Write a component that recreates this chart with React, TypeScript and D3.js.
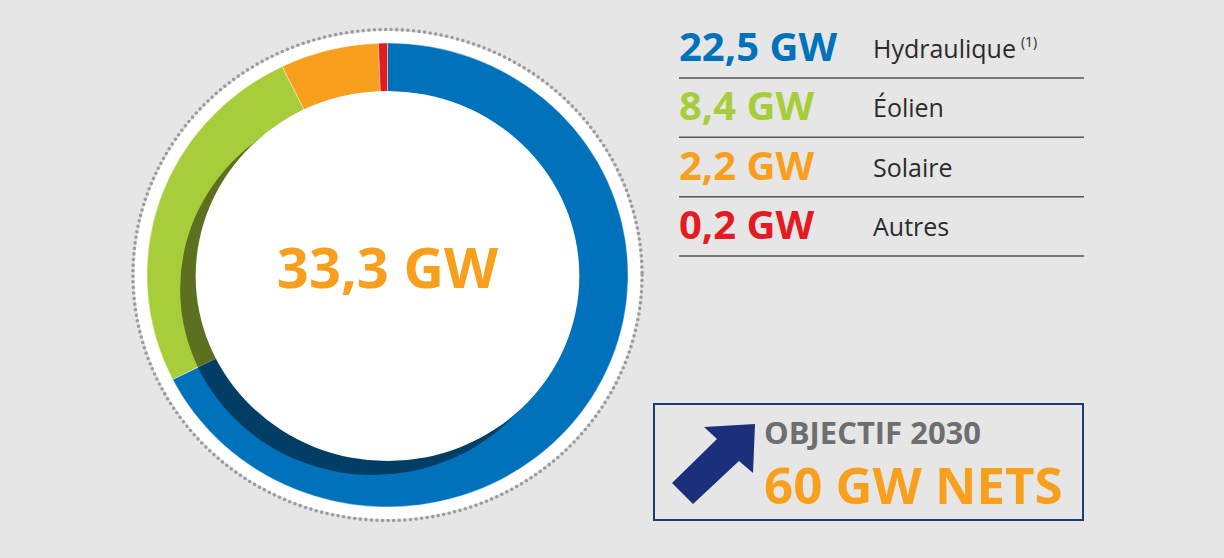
import React from "react";
import * as d3 from "d3";

const categories = ["Hydraulique", "Éolien", "Solaire", "Autres"];
const values = [22.5, 8.4, 2.2, 0.2];
const valueLabels = ["22,5 GW", "8,4 GW", "2,2 GW", "0,2 GW"];
const colors = ["#0071bb", "#a8cd3a", "#f8a01d", "#e31b23"];
const totalLabel = "33,3 GW";
const goalTitle = "OBJECTIF 2030";
const goalValue = "60 GW NETS";

const W = 1224, H = 558;
const cx = 387.5, cy = 275;
const sx = 1.037;
const rOuter = 232, rInner = 185;
const FONT = "'Open Sans', 'DejaVu Sans', sans-serif";

export default function App() {
  const pie = d3.pie<number>().sort(null).value((d) => d);
  const arcs = pie(values);
  const arc = d3.arc<d3.PieArcDatum<number>>().innerRadius(rInner - 2).outerRadius(rOuter);
  const ring = d3.arc()({ innerRadius: rInner - 2, outerRadius: rOuter, startAngle: 0, endAngle: 2 * Math.PI } as any) as string;

  const rowY = d3.scaleLinear().domain([0, 3]).range([61, 239]);
  const lineY = (i: number) => rowY(i) + 17;

  const arrow = [[755, 424], [753, 473], [739, 461], [693, 504], [672, 483], [717, 439], [704, 427]];

  return (
    <svg width={W} height={H} style={{ display: "block", position: "absolute", left: 0, top: 0 }}>
      <defs>
        <clipPath id="ringClip">
          <path d={ring} />
        </clipPath>
      </defs>
      <rect width={W} height={H} fill="#e6e6e6" />
      <ellipse cx={cx} cy={cy} rx={244 * sx} ry={244} fill="#fff" />
      <ellipse cx={cx} cy={cy} rx={245.5 * sx} ry={245.5} fill="none" stroke="#9c9ca0" strokeWidth={3.6} strokeDasharray="0 5.6" strokeLinecap="round" />
      <g transform={`translate(${cx},${cy}) scale(${sx},1)`}>
        {arcs.map((a, i) => (
          <path key={i} d={arc(a) as string} fill={colors[i]} stroke="#fff" strokeWidth={0.4} />
        ))}
        <g clipPath="url(#ringClip)">
          <circle cx={-14} cy={14} r={rInner + 1} fill="#000" opacity={0.45} />
        </g>
        <circle cx={0} cy={1} r={rInner} fill="#fff" />
      </g>
      <text x={cx} y={288} textAnchor="middle" fontFamily={FONT} fontWeight={700} fontSize={56} fill={colors[2]}>
        {totalLabel}
      </text>

      {categories.map((c, i) => (
        <g key={c}>
          <text x={679} y={rowY(i)} fontFamily={FONT} fontWeight={700} fontSize={40} fill={colors[i]}>
            {valueLabels[i]}
          </text>
          <text x={873} y={rowY(i) - 3} fontFamily={FONT} fontSize={25} fill="#2b2b2b">
            {c}
            {i === 0 ? <tspan fontSize={14} dy={-11} dx={5}>(1)</tspan> : null}
          </text>
          <line x1={679} x2={1084} y1={lineY(i)} y2={lineY(i)} stroke="#555" strokeWidth={1.5} />
        </g>
      ))}

      <rect x={654} y={404} width={429} height={116} fill="none" stroke="#1b3d72" strokeWidth={2} />
      <polygon points={arrow.map((p) => p.join(",")).join(" ")} fill="#1b2f7a" />
      <text x={764} y={444} fontFamily={FONT} fontWeight={700} fontSize={31} fill="#6d6e71">
        {goalTitle}
      </text>
      <text x={764} y={504} fontFamily={FONT} fontWeight={700} fontSize={51} fill={colors[2]}>
        {goalValue}
      </text>
    </svg>
  );
}
